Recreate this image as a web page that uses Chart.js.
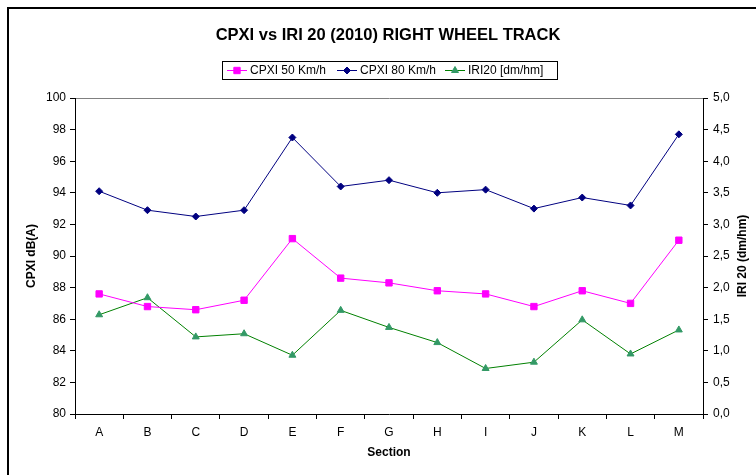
<!DOCTYPE html>
<html lang="en">
<head>
  <meta charset="UTF-8" />
  <title>CPXI vs IRI 20 (2010) Right Wheel Track</title>
  <style>
    body {
      margin: 0;
      padding: 0;
      background: #fff;
    }
    #wrap {
      position: relative;
      width: 756px;
      height: 475px;
      overflow: hidden;
    }
  </style>
  <script src="https://cdn.jsdelivr.net/npm/chart.js"></script>
</head>
<body>
  <div id="wrap">
    <canvas id="cpxiChart" width="756" height="475"></canvas>
  </div>
  <script>
    // Data
    const sections = ["A", "B", "C", "D", "E", "F", "G", "H", "I", "J", "K", "L", "M"];
    const cpxi50 = [87.6, 86.8, 86.6, 87.2, 91.1, 88.6, 88.3, 87.8, 87.6, 86.8, 87.8, 87.0, 91.0];
    const cpxi80 = [94.1, 92.9, 92.5, 92.9, 97.5, 94.4, 94.8, 94.0, 94.2, 93.0, 93.7, 93.2, 97.7];
    const iri20 = [1.57, 1.84, 1.22, 1.27, 0.93, 1.64, 1.37, 1.13, 0.72, 0.82, 1.49, 0.95, 1.33];
    const seriesNames = ["CPXI 50 Km/h", "CPXI 80 Km/h", "IRI20 [dm/hm]"];

    const FONT = "'Liberation Sans', Arial, sans-serif";

    // Title, boxed legend, axis titles and the outer frame
    const decorPlugin = {
      id: "decor",
      afterDraw(chart) {
        const ctx = chart.ctx;
        const area = chart.chartArea;
        ctx.save();

        // outer frame (cut off at right / bottom like the original)
        ctx.strokeStyle = "#000";
        ctx.lineWidth = 2;
        ctx.beginPath();
        ctx.moveTo(8, 480);
        ctx.lineTo(8, 8);
        ctx.lineTo(760, 8);
        ctx.stroke();

        // title
        ctx.fillStyle = "#000";
        ctx.font = "bold 16.5px " + FONT;
        ctx.textAlign = "center";
        ctx.textBaseline = "middle";
        ctx.fillText("CPXI vs IRI 20 (2010) RIGHT WHEEL TRACK", 388, 35);

        // legend box
        ctx.strokeStyle = "#000";
        ctx.lineWidth = 1;
        ctx.strokeRect(222.5, 61.5, 335, 18);
        ctx.font = "12px " + FONT;
        ctx.textAlign = "left";
        const lineStarts = [227, 337, 445];
        chart.data.datasets.forEach((ds, i) => {
          const x0 = lineStarts[i];
          const y = 70.5;
          ctx.strokeStyle = ds.borderColor;
          ctx.lineWidth = 1;
          ctx.beginPath();
          ctx.moveTo(x0, y);
          ctx.lineTo(x0 + 20, y);
          ctx.stroke();
          ctx.fillStyle = ds.backgroundColor;
          ctx.strokeStyle = ds.pointBorderColor || ds.borderColor;
          Chart.helpers.drawPoint(ctx, {
            pointStyle: ds.pointStyle,
            radius: ds.pointRadius,
            borderWidth: 1
          }, x0 + 10, y);
          ctx.fillStyle = "#000";
          ctx.fillText(seriesNames[i], x0 + 23, y);
        });

        // axis titles
        ctx.font = "bold 12px " + FONT;
        ctx.textAlign = "center";
        ctx.fillStyle = "#000";
        ctx.fillText("Section", (area.left + area.right) / 2, 453);

        ctx.save();
        ctx.translate(32, 256);
        ctx.rotate(-Math.PI / 2);
        ctx.fillText("CPXI dB(A)", 0, 0);
        ctx.restore();

        ctx.save();
        ctx.translate(743, 256);
        ctx.rotate(-Math.PI / 2);
        ctx.fillText("IRI 20 (dm/hm)", 0, 0);
        ctx.restore();

        ctx.restore();
      }
    };

    const ctx = document.getElementById("cpxiChart").getContext("2d");
    const cpxiChart = new Chart(ctx, {
      type: "line",
      data: {
        labels: sections,
        datasets: [
          {
            label: seriesNames[0],
            data: cpxi50,
            yAxisID: "y",
            borderColor: "#FF00FF",
            backgroundColor: "#FF00FF",
            pointStyle: "rect",
            pointRadius: 4.5,
            borderWidth: 1,
            tension: 0
          },
          {
            label: seriesNames[1],
            data: cpxi80,
            yAxisID: "y",
            borderColor: "#000080",
            backgroundColor: "#000080",
            pointStyle: "rectRot",
            pointRadius: 3.5,
            borderWidth: 1,
            tension: 0
          },
          {
            label: seriesNames[2],
            data: iri20,
            yAxisID: "y1",
            borderColor: "#008000",
            backgroundColor: "#339966",
            pointBorderColor: "#339966",
            pointStyle: "triangle",
            pointRadius: 4,
            borderWidth: 1,
            tension: 0
          }
        ]
      },
      options: {
        responsive: false,
        animation: false,
        layout: { padding: { top: 98, left: 0, right: 0, bottom: 0 } },
        plugins: {
          legend: { display: false },
          title: { display: false },
          tooltip: { enabled: false }
        },
        scales: {
          x: {
            type: "category",
            offset: true,
            grid: {
              offset: true,
              drawOnChartArea: false,
              tickLength: 5,
              color: "#000"
            },
            border: { color: "#000", width: 1 },
            ticks: {
              color: "#000",
              font: { family: FONT, size: 12 },
              padding: 6
            },
            afterFit(scale) { scale.height = 61; }
          },
          y: {
            position: "left",
            min: 80,
            max: 100,
            ticks: {
              stepSize: 2,
              color: "#000",
              font: { family: FONT, size: 12 },
              padding: 4
            },
            grid: {
              tickLength: 5,
              color: c => (c.tick && c.tick.value === 100) ? "#808080" : "rgba(0,0,0,0)",
              tickColor: "#000"
            },
            border: { color: "#000", width: 1 },
            afterFit(scale) { scale.width = 75; }
          },
          y1: {
            position: "right",
            min: 0,
            max: 5,
            ticks: {
              stepSize: 0.5,
              color: "#000",
              font: { family: FONT, size: 12 },
              padding: 5,
              callback: v => v.toFixed(1).replace(".", ",")
            },
            grid: {
              drawOnChartArea: false,
              tickLength: 5,
              color: "#000"
            },
            border: { color: "#000", width: 1 },
            afterFit(scale) { scale.width = 53; }
          }
        }
      },
      plugins: [decorPlugin]
    });
  </script>
</body>
</html>
